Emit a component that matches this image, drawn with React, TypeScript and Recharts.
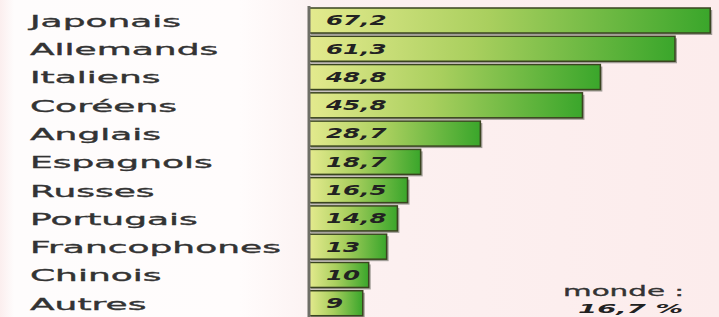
import React from 'react';
import { BarChart, Bar, XAxis, YAxis, LabelList } from 'recharts';

const categories = ['Japonais', 'Allemands', 'Italiens', 'Coréens', 'Anglais', 'Espagnols', 'Russes', 'Portugais', 'Francophones', 'Chinois', 'Autres'];
const values = [67.2, 61.3, 48.8, 45.8, 28.7, 18.7, 16.5, 14.8, 13, 10, 9];
const valueLabels = ['67,2', '61,3', '48,8', '45,8', '28,7', '18,7', '16,5', '14,8', '13', '10', '9'];
const worldLabel = 'monde :';
const worldValue = '16,7 %';

const data = categories.map((c, i) => ({ name: c, value: values[i], label: valueLabels[i] }));

const CatTick = (props: any) => {
  const { y, payload } = props;
  return (
    <g transform={`translate(30, ${y + 1}) scale(2.25, 1)`}>
      <text x={0} y={0} dy="0.36em" fontFamily="DejaVu Sans" fontSize={16} fill="#333" stroke="#333" strokeWidth={0.35}>
        {payload.value}
      </text>
    </g>
  );
};

const BarShape = (props: any) => {
  const { x, y, width, height } = props;
  return (
    <g>
      <rect x={x + 2} y={y + 2} width={width} height={height} fill="#7a7a72" opacity={0.7} />
      <rect x={x} y={y} width={width} height={height} fill="url(#barGrad)" stroke="#3a4420" strokeWidth={1.5} />
    </g>
  );
};

const ValueLabel = (props: any) => {
  const { x, y, height, index } = props;
  return (
    <g transform={`translate(${x + 17}, ${y + height / 2}) scale(1.82, 1)`}>
      <text x={0} y={0} dy="0.36em" fontFamily="DejaVu Sans" fontSize={13.5} fontWeight="bold" fontStyle="italic" fill="#222">
        {data[index].label}
      </text>
    </g>
  );
};

export default function App() {
  return (
    <div
      style={{
        position: 'absolute',
        left: 0,
        top: 0,
        width: 719,
        height: 317,
        overflow: 'hidden',
        background: 'linear-gradient(to right, #fbeeee 0px, #fefcfc 14px, #fffcfc 240px, #fcf1f1 320px, #fcecec 719px)',
      }}
    >
      <BarChart
        width={719}
        height={317}
        data={data}
        layout="vertical"
        margin={{ top: 6, right: 4, bottom: 0, left: 0 }}
      >
        <defs>
          <linearGradient id="barGrad" x1="0" y1="0" x2="1" y2="0">
            <stop offset="0%" stopColor="#e4ea8e" />
            <stop offset="45%" stopColor="#a9cf5e" />
            <stop offset="100%" stopColor="#3aa62b" />
          </linearGradient>
        </defs>
        <XAxis type="number" domain={[0, 68]} hide />
        <YAxis
          type="category"
          dataKey="name"
          width={309}
          tickLine={false}
          axisLine={{ stroke: '#6e6e66', strokeWidth: 3 }}
          tick={<CatTick />}
          interval={0}
        />
        <Bar dataKey="value" barSize={25} isAnimationActive={false} shape={<BarShape />}>
          <LabelList dataKey="label" content={<ValueLabel />} />
        </Bar>
      </BarChart>
      <svg width={719} height={317} style={{ position: 'absolute', left: 0, top: 0, pointerEvents: 'none' }}>
        <g transform="translate(563, 296) scale(2.1, 1)">
          <text x={0} y={0} fontFamily="DejaVu Sans" fontSize={14} fill="#333" stroke="#333" strokeWidth={0.3}>{worldLabel}</text>
        </g>
        <g transform="translate(578, 313) scale(2.2, 1)">
          <text x={0} y={0} fontFamily="DejaVu Sans" fontSize={12.5} fontWeight="bold" fontStyle="italic" fill="#222">{worldValue}</text>
        </g>
      </svg>
    </div>
  );
}
